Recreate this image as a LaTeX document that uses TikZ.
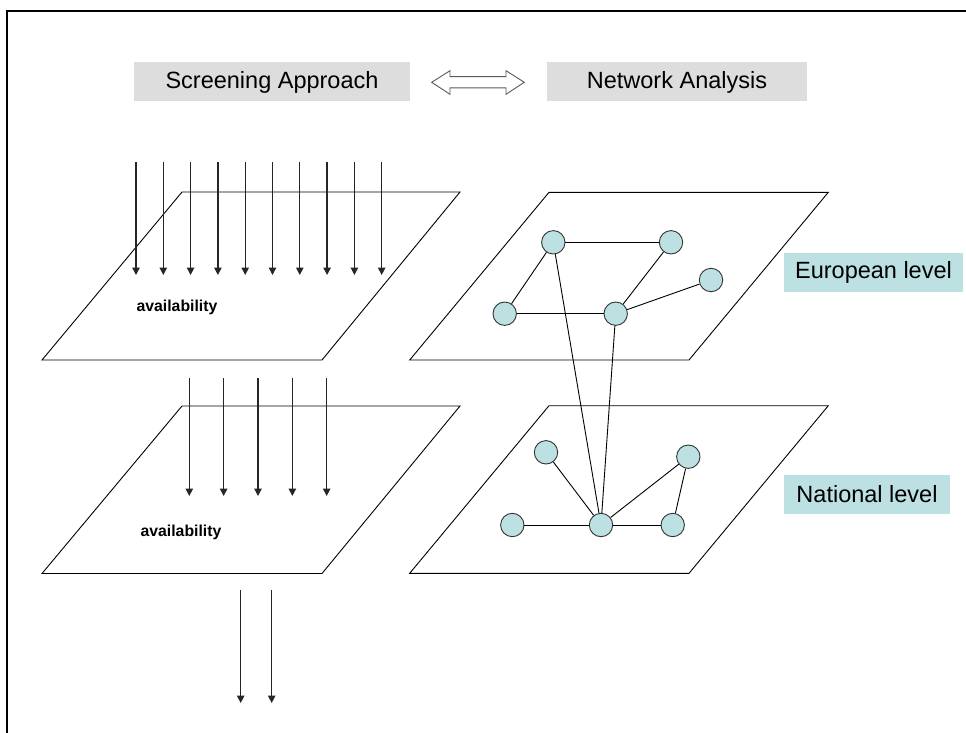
\documentclass[tikz,border=0pt]{standalone}
\usepackage{fontspec}
\setmainfont{Liberation Sans}
\usetikzlibrary{arrows.meta}
\definecolor{boxgray}{RGB}{221,221,221}
\definecolor{paleteal}{RGB}{189,224,227}
\definecolor{arrowgray}{RGB}{90,90,90}

\begin{document}
\begin{tikzpicture}[x=1pt,y=-1pt,
  plane/.style={draw=black, line width=0.9pt},
  flow/.style={draw=black!85, line width=1.3pt, -{Triangle[length=7.5pt,width=7.5pt]}},
  header/.style={fill=boxgray, inner sep=0pt, minimum height=39pt,
    font=\fontsize{23.5}{28}\selectfont},
  level/.style={fill=paleteal, inner sep=0pt, minimum height=38.5pt,
    font=\fontsize{23.5}{28}\selectfont},
  site/.style={circle, draw=black!80, fill=paleteal, minimum size=23.4pt,
    inner sep=0pt, line width=0.9pt},
  link/.style={draw=black, line width=0.9pt},
  note/.style={font=\fontsize{15.8}{19}\selectfont\bfseries, inner sep=0pt}]

\useasboundingbox (0,0) rectangle (966,733);

% frame
\draw[line width=2pt] (966,11) -- (7,11) -- (7,733);

% headers
\node[header, minimum width=276pt] (screen) at (272,82) {Screening Approach};
\node[header, minimum width=260pt] (network) at (677,82) {Network Analysis};

% double-headed block arrow between the two approaches
\draw[draw=arrowgray, fill=white, line width=0.9pt, line join=miter]
  (431.7,82.3) -- (450,70.7) -- (450,76.7) -- (506,76.7) -- (506,70.7)
  -- (524.3,82.3) -- (506,94.3) -- (506,87.9) -- (450,87.9) -- (450,94.3) -- cycle;

% screening planes
\draw[plane] (182,192) -- (460,192) -- (322,360) -- (42,360) -- cycle;
\draw[plane] (182,406) -- (460,406) -- (322,573.5) -- (42,573.5) -- cycle;

% network planes
\draw[plane] (549,192.3) -- (828.3,192.3) -- (689,360) -- (409.7,360) -- cycle;
\draw[plane] (549,405.7) -- (828.3,405.7) -- (689,573.3) -- (409.7,573.3) -- cycle;

% flows through the European plane
\foreach \i in {0,...,9} {
  \coordinate (a\i) at ({136+27.3*\i},162);
  \coordinate (b\i) at ({136+27.3*\i},275);
  \draw[flow] (a\i) -- (b\i);
}
% flows through the national plane
\foreach \i in {0,...,4} {
  \coordinate (c\i) at ({189.3+34.35*\i},378);
  \coordinate (d\i) at ({189.3+34.35*\i},496);
  \draw[flow] (c\i) -- (d\i);
}
% remaining flows
\coordinate (e0) at (240.7,590);
\coordinate (f0) at (240.7,703);
\coordinate (e1) at (271.7,590);
\coordinate (f1) at (271.7,703);
\draw[flow] (e0) -- (f0);
\draw[flow] (e1) -- (f1);

\node[note] (avail1) at (177,307) {availability};
\node[note] (avail2) at (181,532) {availability};

% European network
\node[site] (n1) at (553.3,242.3) {};
\node[site] (n2) at (671,242.3) {};
\node[site] (n3) at (711,280) {};
\node[site] (n4) at (504.7,313.7) {};
\node[site] (n5) at (615.7,313.7) {};

% national network
\node[site] (m1) at (546,452.3) {};
\node[site] (m2) at (688.3,456.7) {};
\node[site] (m3) at (512.3,525) {};
\node[site] (m4) at (601,525) {};
\node[site] (m5) at (672.7,525) {};

\draw[link] (n1) -- (n2);
\draw[link] (n1) -- (n4);
\draw[link] (n2) -- (n5);
\draw[link] (n3) -- (n5);
\draw[link] (n4) -- (n5);

\draw[link] (m1) -- (m4);
\draw[link] (m3) -- (m4);
\draw[link] (m4) -- (m5);
\draw[link] (m4) -- (m2);
\draw[link] (m2) -- (m5);

% links between levels
\draw[link] (n1) -- (m4);
\draw[link] (n5) -- (m4);

% level labels
\node[level, minimum width=179pt] (eu) at (873.5,272.5) {European level};
\node[level, minimum width=166pt] (nat) at (867,494.5) {National level};

\end{tikzpicture}
\end{document}
